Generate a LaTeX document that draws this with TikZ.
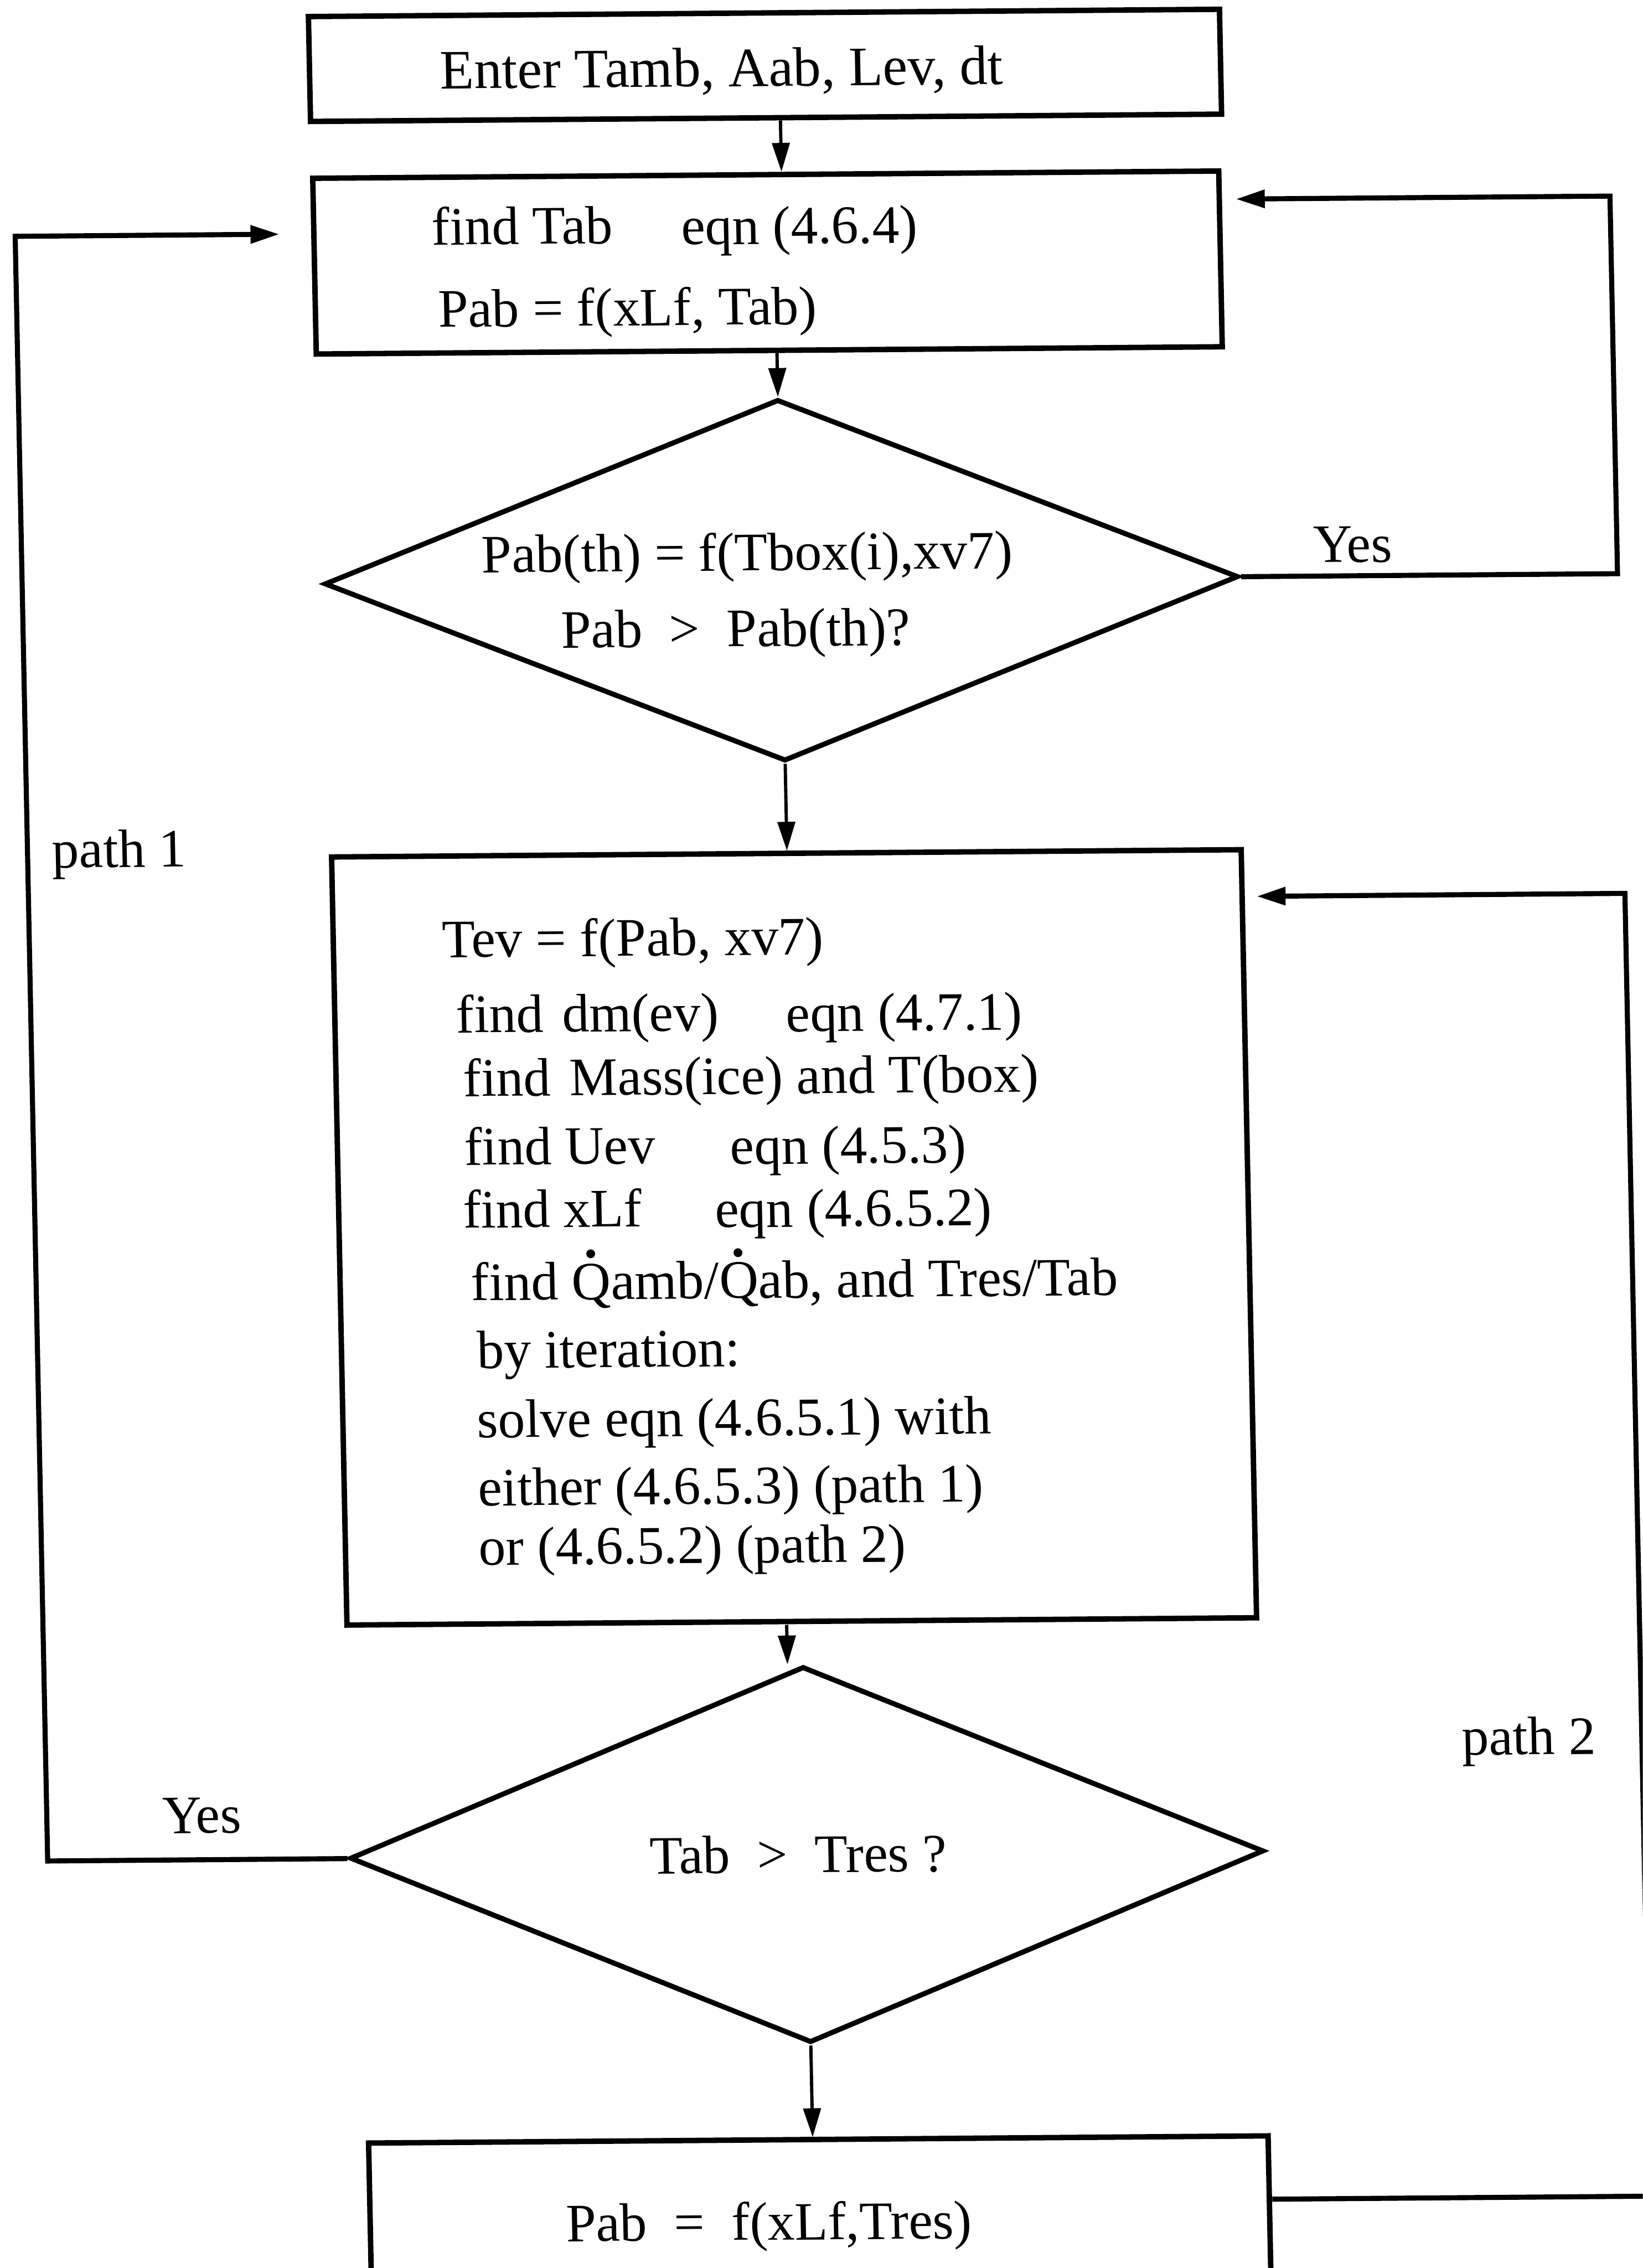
\documentclass[tikz,border=0pt]{standalone}
\usepackage{fontspec}
\setmainfont{Liberation Serif}
\usetikzlibrary{arrows.meta,shapes.geometric,calc}
% Q with a dot above (time derivative)
\newcommand{\qdot}{\ooalign{Q\cr\hidewidth\raisebox{0.77em}{\textbf{.}}\hidewidth\cr}}

\begin{document}
\begin{tikzpicture}[x=0.2mm,y=-0.2mm,
  every node/.style={font=\fontsize{21.3}{25}\selectfont},
  stepbox/.style={draw, line width=0.75mm, rectangle, inner sep=0pt},
  decision/.style={draw, line width=0.7mm, diamond, inner sep=0pt},
  txt/.style={anchor=base west, inner sep=0pt},
  tip/.style={-{Triangle[length=4mm,width=2.4mm]}},
  flow/.style={line width=0.45mm, tip},
  link/.style={line width=0.7mm, tip},
]
\path[use as bounding box] (0,0) rectangle (1136,1568);
\clip (0,0) rectangle (1136,1568);
\fill[white] (0,0) rectangle (1136,1568);

\begin{scope}[shift={(568,784)}, cm={1,0.008,-0.02,1,(0,0)}, shift={(-568,-784)}, transform shape]

% boxes and decisions
\node[stepbox, minimum width=126mm, minimum height=14.5mm] (b1) at (543.8,45) {};
\node[stepbox, minimum width=125.3mm, minimum height=24.3mm] (b2) at (542.8,181.3) {};
\node[decision, minimum width=126.4mm, minimum height=50mm] (d1) at (548,401) {};
\node[stepbox, minimum width=125.8mm, minimum height=106.2mm] (b3) at (547.7,855.3) {};
\node[decision, minimum width=126.4mm, minimum height=52mm] (d2) at (548,1282) {};
\node[stepbox, minimum width=124.4mm, minimum height=40mm] (b4) at (552,1579) {};

% texts of the first box and the second box
\node[txt, font=\fontsize{21.9}{25}\selectfont] (t1) at (318.8,59.4) {Enter Tamb, Aab, Lev, dt};
\node[txt] (t2a) at (310.8,167.3) {find Tab};
\node[txt] (t2b) at (483.3,168.5) {eqn (4.6.4)};
\node[txt] (t2c) at (314.1,224.2) {Pab = f(xLf, Tab)};

% first decision
\node[txt] (t3a) at (340.8,394.1) {Pab(th) = f(Tbox(i),xv7)};
\node[txt] (t3b) at (394.7,446.6) {Pab~~>~~Pab(th)?};

% main computation box
\node[txt] (l1) at (308.1,659.9) {Tev = f(Pab, xv7)};
\node[txt] (l2a) at (316.8,712.0) {find};
\node[txt] (l2b) at (390.2,712.0) {dm(ev)};
\node[txt] (l2c) at (544.9,713.0) {eqn (4.7.1)};
\node[txt] (l3a) at (320.9,756.0) {find};
\node[txt] (l3b) at (394.4,756.0) {Mass(ice) and T(box)};
\node[txt] (l4a) at (320.6,803.5) {find Uev};
\node[txt] (l4b) at (504.5,804.5) {eqn (4.5.3)};
\node[txt] (l5a) at (318.8,847.0) {find xLf};
\node[txt] (l5b) at (493.1,848.0) {eqn (4.6.5.2)};
\node[txt] (l6) at (323.5,897.1) {find \qdot amb/\qdot ab, and Tres/Tab};
\node[txt] (l7) at (326.5,944.1) {by iteration:};
\node[txt] (l8) at (325.8,992.1) {solve eqn (4.6.5.1) with};
\node[txt] (l9) at (325.5,1039.1) {either (4.6.5.3) (path 1)};
\node[txt] (l10) at (325.2,1080.1) {or (4.6.5.2) (path 2)};

% second decision and last box
\node[txt] (t4) at (439,1294.4) {Tab~~>~~Tres ?};
\node[txt] (t5) at (376,1548.2) {Pab~~=~~f(xLf,Tres)};

% branch labels
\node[txt] (yes1) at (915.9,391.7) {Yes};
\node[txt] (yes2) at (102.6,1263.9) {Yes};
\node[txt] (path1) at (39.7,595.7) {path 1};
\node[txt] (path2) at (1002.1,1216.8) {path 2};

% main flow
\coordinate (a1s) at ([xshift=1.94mm]b1.south);
\draw[flow] (a1s) -- (a1s |- b2.north);
\draw[flow] (d1.north |- b2.south) -- (d1.north);
\draw[flow] (d1.south) -- (d1.south |- b3.north);
\coordinate (a4s) at ([xshift=-2.14mm]b3.south);
\draw[flow] (a4s) -- (a4s |- d2.north);
\draw[flow] (d2.south) -- (d2.south |- b4.north);

% loop back on Yes from the first decision
\coordinate (yr) at (1126,140);
\draw[link, shorten >=1.88mm] (d1.east) -- (d1.east -| yr) -- (yr) -- (yr -| b2.east);

% path 1
\coordinate (pl) at (23,159);
\draw[link, shorten >=4.4mm] (d2.west) -- (d2.west -| pl) -- (pl) -- (pl -| b2.west);

% path 2
\coordinate (pb) at (1126.7,1522.5);
\coordinate (pr) at (1126.7,622);
\draw[link, shorten >=1.6mm] (pb -| b4.east) -- (pb) -- (pr) -- (pr -| b3.east);

\end{scope}
\end{tikzpicture}
\end{document}
